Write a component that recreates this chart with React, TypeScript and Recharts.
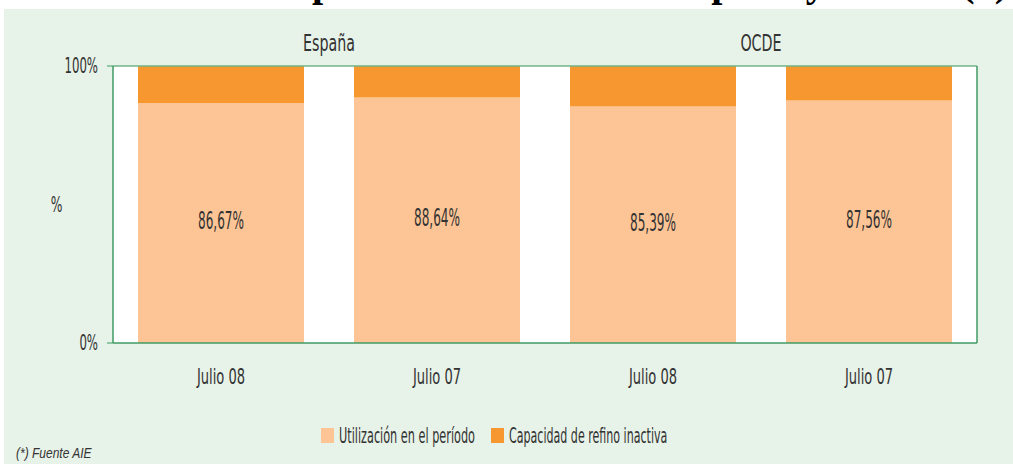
import React from 'react';
import { BarChart, Bar, XAxis, YAxis, CartesianGrid, Legend, LabelList } from 'recharts';

const periods = ['Julio 08', 'Julio 07', 'Julio 08', 'Julio 07'];
const regions = ['España', 'España', 'OCDE', 'OCDE'];
const utilizacion = [86.67, 88.64, 85.39, 87.56];
const inactiva = [13.33, 11.36, 14.61, 12.44];
const yTicks = [0, 100];

const data = periods.map((p, i) => ({
  period: p,
  region: regions[i],
  util: utilizacion[i],
  inact: inactiva[i],
}));

const GREEN = '#3f9b63';
const BG = '#e7f2e8';
const LIGHT = '#fdc596';
const ORANGE = '#f7972f';
const INK = '#333333';
const NARROW = "'Liberation Sans Narrow', 'DejaVu Sans Condensed', sans-serif";

// the source uses a very condensed face, so squeeze the text horizontally
const Cond = ({ x, y, size, sx = 0.65, anchor = 'middle', children }: any) => (
  <text
    transform={`translate(${x},${y}) scale(${sx},1)`}
    fontFamily={NARROW}
    fontSize={size}
    fill={INK}
    textAnchor={anchor}
    dominantBaseline="central"
  >
    {children}
  </text>
);

const fmtPct = (v: number) => v.toFixed(2).replace('.', ',') + '%';

const BottomTick = ({ x, y, payload }: any) => (
  <Cond x={x} y={y + 33} size={22} sx={0.66}>{payload.value}</Cond>
);

// one label per region, centred over its pair of bars
const TopTick = ({ x, y, payload, index }: any) =>
  index % 2 === 0 ? (
    <Cond x={x + 108} y={y - 23} size={23} sx={0.69}>{payload.value}</Cond>
  ) : null;

const LeftTick = ({ x, y, payload }: any) => (
  <Cond x={x - 7} y={y} size={21} sx={0.62} anchor="end">{payload.value + '%'}</Cond>
);

const BarValue = ({ x, y, width, height, value }: any) => (
  <Cond x={x + width / 2} y={y + height / 2 - 2} size={24} sx={0.56}>{fmtPct(value)}</Cond>
);

const LegendRow = () => (
  <svg width={1013} height={26}>
    <rect x={321} y={5} width={13} height={15} fill={LIGHT} />
    <Cond x={339} y={12} size={22} sx={0.57} anchor="start">Utilización en el período</Cond>
    <rect x={491} y={5} width={13} height={15} fill={ORANGE} />
    <Cond x={509} y={12} size={22} sx={0.56} anchor="start">Capacidad de refino inactiva</Cond>
  </svg>
);

export default function App() {
  return (
    <div style={{ position: 'absolute', left: 0, top: 0, width: 1013, height: 464, background: '#fff', overflow: 'hidden' }}>
      <svg width={1013} height={9} style={{ position: 'absolute', left: 0, top: 0 }}>
        <text x={1008} y={-4} textAnchor="end" fontFamily="'Liberation Serif', serif" fontWeight="bold" fontSize={40} fill="#000">
          Utilización de la capacidad de refino en España y OCDE (*)
        </text>
      </svg>
      <div style={{ position: 'absolute', left: 4, top: 9, width: 1009, height: 455, background: BG }} />
      <div style={{ position: 'absolute', left: 0, top: 0 }}>
        <BarChart
          width={1013}
          height={464}
          data={data}
          margin={{ top: 26, right: 0, bottom: 61, left: 0 }}
          barSize={166}
        >
          <CartesianGrid fill="#ffffff" horizontal={false} vertical={false} />
          <XAxis
            dataKey="period"
            height={60}
            tickLine={false}
            tickSize={0}
            tickMargin={0}
            axisLine={{ stroke: GREEN, strokeWidth: 1.5 }}
            tick={<BottomTick />}
            interval={0}
          />
          <XAxis
            xAxisId="top"
            orientation="top"
            dataKey="region"
            height={40}
            tickLine={false}
            tickSize={0}
            tickMargin={0}
            axisLine={{ stroke: '#6fb487', strokeWidth: 1.5 }}
            tick={<TopTick />}
            interval={0}
          />
          <YAxis
            domain={[0, 100]}
            ticks={yTicks}
            width={113}
            tickSize={6}
            tickMargin={2}
            tickLine={{ stroke: GREEN }}
            axisLine={{ stroke: GREEN, strokeWidth: 1.5 }}
            tick={<LeftTick />}
            label={{
              content: ({ viewBox }: any) => (
                <Cond x={viewBox.x + viewBox.width / 2} y={viewBox.y + viewBox.height / 2} size={22} sx={0.62}>%</Cond>
              ),
            }}
          />
          <YAxis
            yAxisId="right"
            orientation="right"
            domain={[0, 100]}
            width={36}
            tick={false}
            tickLine={false}
            axisLine={{ stroke: GREEN, strokeWidth: 1.5 }}
          />
          <Legend
            layout="horizontal"
            verticalAlign="middle"
            align="center"
            content={<LegendRow />}
            wrapperStyle={{ top: 423, left: 0, width: 1013 }}
          />
          <Bar dataKey="util" stackId="a" fill={LIGHT} name="Utilización en el período" isAnimationActive={false}>
            <LabelList dataKey="util" content={<BarValue />} />
          </Bar>
          <Bar dataKey="inact" stackId="a" fill={ORANGE} name="Capacidad de refino inactiva" isAnimationActive={false} />
        </BarChart>
      </div>
      <div
        style={{
          position: 'absolute',
          left: 16,
          top: 444,
          fontFamily: "'Liberation Sans', Arial, sans-serif",
          fontStyle: 'italic',
          fontSize: 15,
          color: INK,
          whiteSpace: 'nowrap',
          transform: 'scaleX(0.8)',
          transformOrigin: 'left top',
        }}
      >
        (*) Fuente AIE
      </div>
    </div>
  );
}
